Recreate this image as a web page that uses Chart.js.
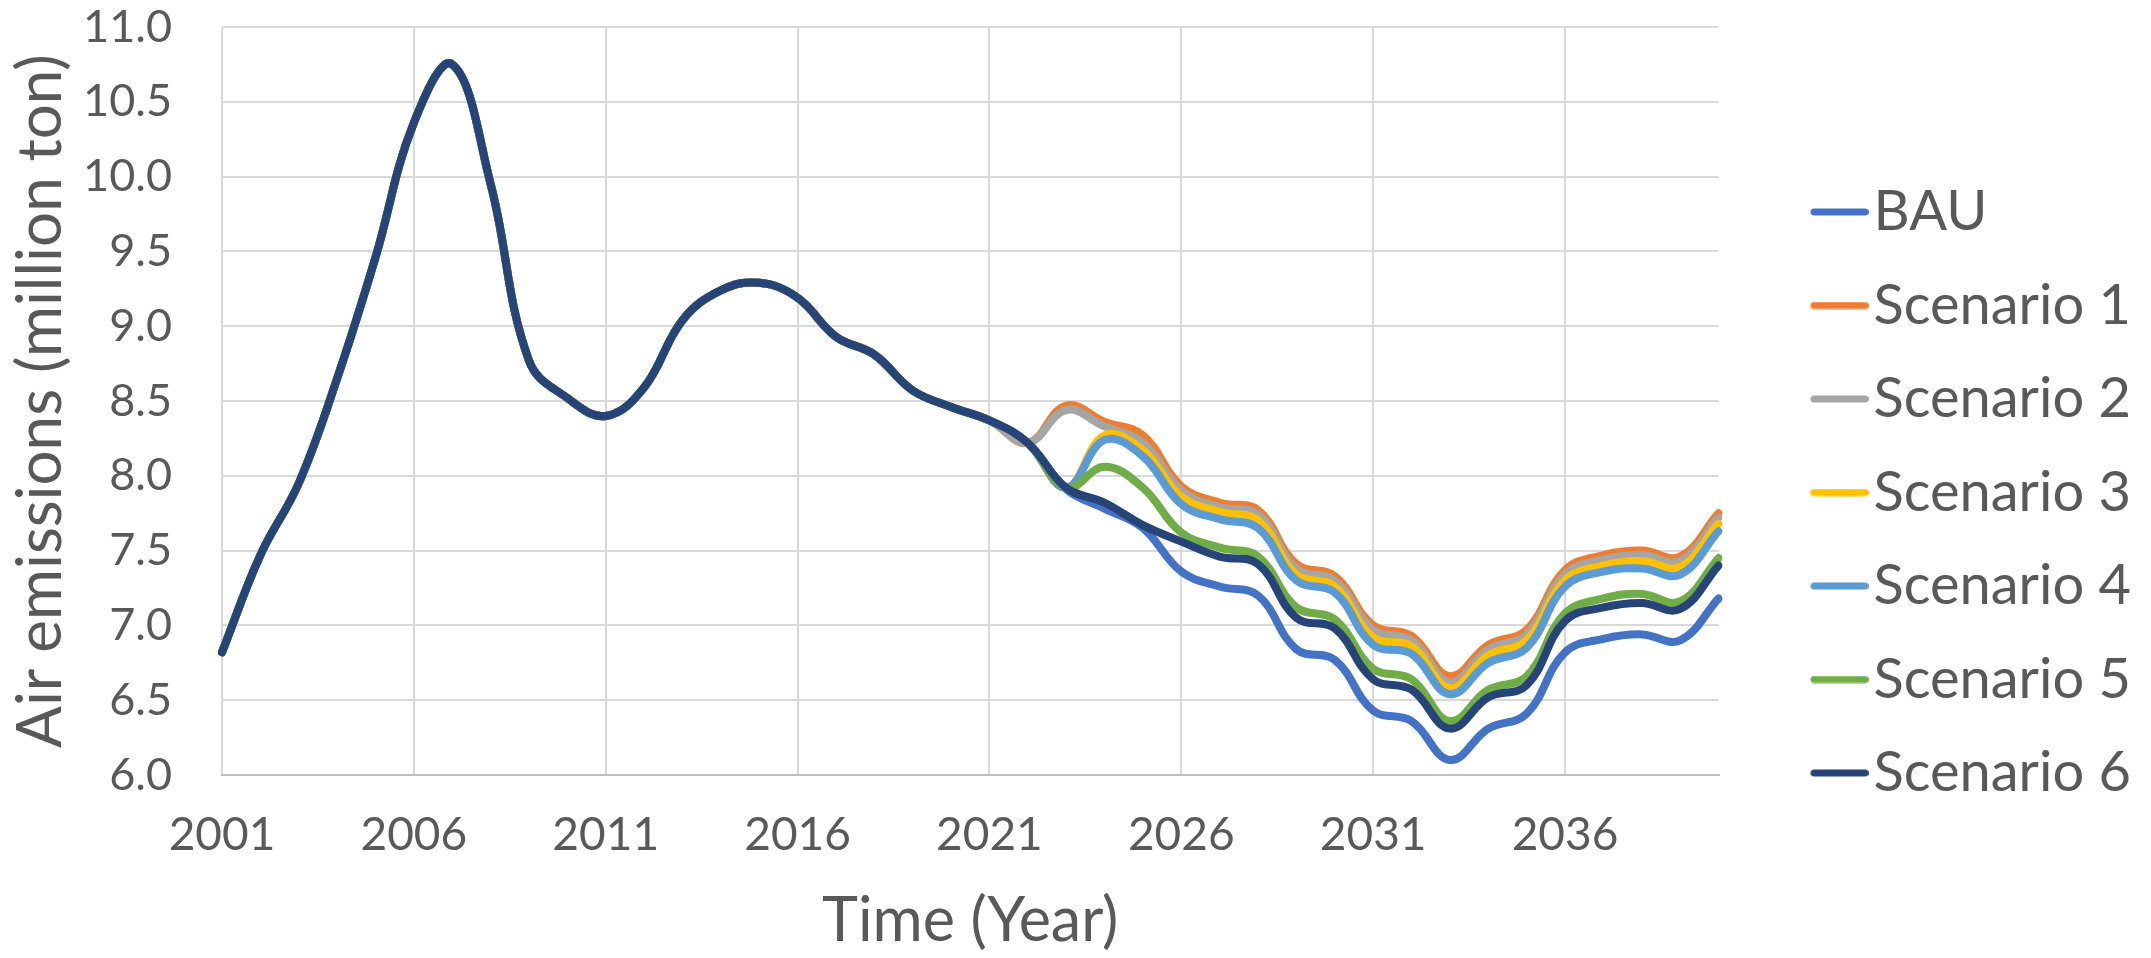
<!DOCTYPE html>
<html>
<head>
<meta charset="utf-8">
<script src="https://cdn.jsdelivr.net/npm/chart.js@4.4.0/dist/chart.umd.min.js"></script>
<style>
  html, body { margin: 0; padding: 0; background: #fff; }
  #wrap { width: 2151px; height: 958px; }
</style>
</head>
<body>
<div id="wrap"><canvas id="emissionsChart" width="2151" height="958"></canvas></div>
<script>
// years on the x axis
const years = [
  '2001', '2002', '2003', '2004', '2005', '2006', '2007', '2008', '2009', '2010',
  '2011', '2012', '2013', '2014', '2015', '2016', '2017', '2018', '2019', '2020',
  '2021', '2022', '2023', '2024', '2025', '2026', '2027', '2028', '2029', '2030',
  '2031', '2032', '2033', '2034', '2035', '2036', '2037', '2038', '2039', '2040'
];

// shared history 2001-2022 (all series are the same here)
const history = [
  6.82, 7.47, 7.95, 8.65, 9.46, 10.36, 10.75, 9.95, 8.77, 8.52,
  8.40, 8.59, 9.04, 9.24, 9.29, 9.19, 8.93, 8.81, 8.57, 8.46,
  8.37, 8.22
];

// projections 2023-2040
const bau       = [7.91, 7.78, 7.65, 7.36, 7.26, 7.20, 6.84, 6.77, 6.43, 6.36, 6.10, 6.31, 6.41, 6.82, 6.91, 6.94, 6.90, 7.18];
const scenario1 = [8.47, 8.36, 8.27, 7.93, 7.82, 7.77, 7.41, 7.33, 7.00, 6.93, 6.66, 6.87, 6.97, 7.37, 7.47, 7.50, 7.46, 7.75];
const scenario2 = [8.44, 8.33, 8.22, 7.90, 7.79, 7.74, 7.38, 7.30, 6.97, 6.90, 6.62, 6.84, 6.94, 7.34, 7.44, 7.47, 7.43, 7.72];
const scenario3 = [7.92, 8.27, 8.17, 7.86, 7.76, 7.70, 7.34, 7.26, 6.92, 6.86, 6.58, 6.80, 6.90, 7.30, 7.40, 7.43, 7.39, 7.68];
const scenario4 = [7.92, 8.24, 8.13, 7.81, 7.71, 7.65, 7.30, 7.22, 6.87, 6.81, 6.54, 6.75, 6.85, 7.26, 7.36, 7.38, 7.34, 7.63];
const scenario5 = [7.92, 8.06, 7.92, 7.62, 7.52, 7.46, 7.12, 7.04, 6.71, 6.64, 6.36, 6.57, 6.66, 7.08, 7.18, 7.21, 7.16, 7.45];
const scenario6 = [7.92, 7.82, 7.67, 7.56, 7.46, 7.41, 7.05, 6.98, 6.64, 6.57, 6.31, 6.52, 6.60, 7.03, 7.12, 7.15, 7.11, 7.40];

const seriesNames = ['BAU', 'Scenario 1', 'Scenario 2', 'Scenario 3', 'Scenario 4', 'Scenario 5', 'Scenario 6'];
const seriesColors = ['#4472C4', '#ED7D31', '#A5A5A5', '#FFC000', '#5B9BD5', '#70AD47', '#264478'];
const projections = [bau, scenario1, scenario2, scenario3, scenario4, scenario5, scenario6];

const fontFamily = 'Lato, "Open Sans", sans-serif';
const textColor = '#595959';

// label padding would push the plot box around, drop it
function noPadding(scale) {
  scale.paddingTop = 0;
  scale.paddingBottom = 0;
  scale.paddingLeft = 0;
  scale.paddingRight = 0;
}

// legend marker: a short line whose right end sits close to the text
// (image is centred on the 35px box, left part kept transparent)
function legendLine(color) {
  const c = document.createElement('canvas');
  c.width = 81;
  c.height = 8;
  const g = c.getContext('2d');
  g.strokeStyle = color;
  g.lineWidth = 7;
  g.lineCap = 'round';
  g.beginPath();
  g.moveTo(23 + 3.5, 4);
  g.lineTo(81 - 3.5, 4);
  g.stroke();
  return c;
}

function drawChart() {
  const lineImages = seriesColors.map(legendLine);

  const datasets = seriesNames.map((name, i) => ({
    label: name,
    data: history.concat(projections[i]),
    borderColor: seriesColors[i],
    backgroundColor: seriesColors[i],
    order: seriesNames.length - 1 - i // last series on top, like Excel
  }));

  const ctx = document.getElementById('emissionsChart').getContext('2d');
  new Chart(ctx, {
    type: 'line',
    data: { labels: years, datasets: datasets },
    options: {
      responsive: false,
      devicePixelRatio: 1,
      animation: false,
      layout: { padding: { top: 27, right: 10, bottom: 0, left: 0 } },
      elements: {
        point: { radius: 0 },
        line: { tension: 0.4, borderWidth: 8, borderCapStyle: 'round', borderJoinStyle: 'round' }
      },
      plugins: {
        tooltip: { enabled: false },
        legend: {
          position: 'right',
          align: 'center',
          labels: {
            font: { family: fontFamily, size: 56 },
            color: textColor,
            usePointStyle: true,
            pointStyleWidth: 35,
            boxHeight: 8,
            padding: 37.5,
            sort: (a, b) => a.datasetIndex - b.datasetIndex,
            generateLabels: (chart) =>
              Chart.defaults.plugins.legend.labels.generateLabels(chart).map((item) => ({
                ...item,
                lineWidth: 0,
                pointStyle: lineImages[item.datasetIndex]
              }))
          }
        }
      },
      scales: {
        x: {
          grid: {
            color: (c) => (c.index % 5 === 0 ? '#d9d9d9' : 'rgba(0,0,0,0)'),
            lineWidth: 2,
            drawTicks: false
          },
          border: { color: '#bfbfbf', width: 2 },
          ticks: {
            autoSkip: false,
            maxRotation: 0,
            padding: 33,
            color: textColor,
            font: { family: fontFamily, size: 46 },
            callback: function (value, index) {
              return index % 5 === 0 ? this.getLabelForValue(value) : '';
            }
          },
          title: {
            display: true,
            text: 'Time (Year)',
            color: textColor,
            font: { family: fontFamily, size: 61 },
            padding: { top: 0, bottom: 0 }
          },
          afterFit: (scale) => { scale.height = 183; noPadding(scale); }
        },
        y: {
          min: 6,
          max: 11,
          grid: { color: '#d9d9d9', lineWidth: 2, drawTicks: false },
          border: { display: false },
          ticks: {
            stepSize: 0.5,
            padding: 50,
            color: textColor,
            font: { family: fontFamily, size: 45 },
            callback: (v) => v.toFixed(1)
          },
          title: {
            display: true,
            text: 'Air emissions (million ton)',
            color: textColor,
            font: { family: fontFamily, size: 62 },
            padding: { top: 4, bottom: 0 }
          },
          afterFit: (scale) => { scale.width = 222; noPadding(scale); }
        },
        // hidden right axis, only keeps the gap between plot and legend
        gap: {
          display: false,
          position: 'right',
          afterFit: (scale) => { scale.width = 54.5; noPadding(scale); }
        }
      }
    }
  });
}

document.fonts.load('56px Lato').then(drawChart, drawChart);
</script>
</body>
</html>
